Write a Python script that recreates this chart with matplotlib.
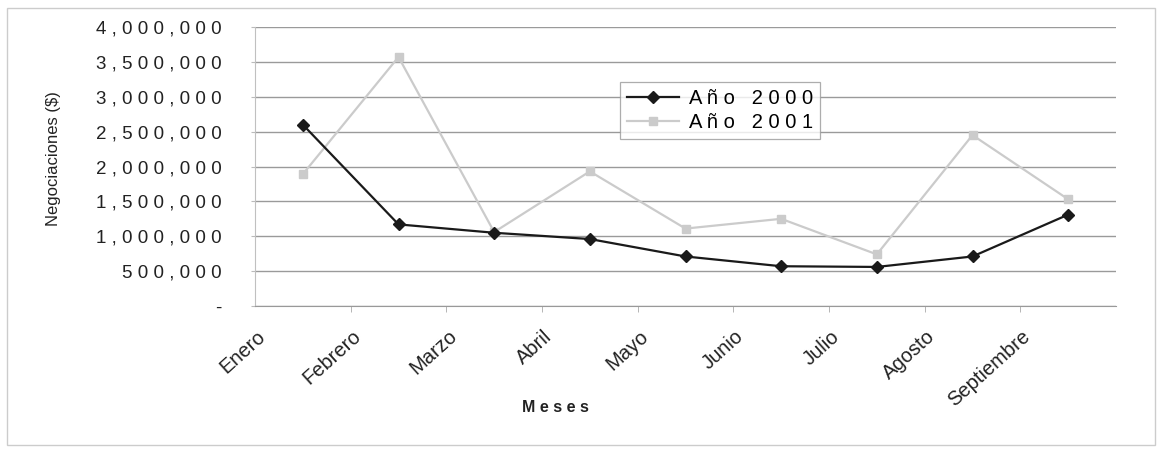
import matplotlib.pyplot as plt
from matplotlib.patches import Rectangle

meses = ["Enero", "Febrero", "Marzo", "Abril", "Mayo", "Junio",
         "Julio", "Agosto", "Septiembre"]
anio_2000 = [2600000, 1170000, 1050000, 960000, 710000, 570000, 560000, 710000, 1310000]
anio_2001 = [1890000, 3570000, 1060000, 1930000, 1110000, 1250000, 740000, 2450000, 1530000]
y_ticks = [0, 500000, 1000000, 1500000, 2000000, 2500000, 3000000, 3500000, 4000000]

# etiquetas estilo Excel con letras espaciadas
y_labels = ["-" if v == 0 else " ".join(f"{v:,}") for v in y_ticks]

plt.rcParams["font.family"] = ["Liberation Sans", "DejaVu Sans"]

fig = plt.figure(figsize=(11.62, 4.53), dpi=100)
ax = fig.add_axes([255 / 1162, 1 - 306 / 453, (1116 - 255) / 1162, (306 - 27) / 453])

x = list(range(len(meses)))
ax.plot(x, anio_2000, color="#1a1a1a", lw=1.6, marker="D", ms=6.5,
        label="A ñ o   2 0 0 0", zorder=4)
ax.plot(x, anio_2001, color="#cbcbcb", lw=1.6, marker="s", ms=6,
        label="A ñ o   2 0 0 1", zorder=3)

ax.set_xlim(-0.5, len(meses) - 0.5)
ax.set_ylim(0, 4000000)
ax.set_yticks(y_ticks)
ax.set_yticklabels(y_labels, fontsize=13.5, color="#222222")
ax.yaxis.grid(True, color="#9a9a9a", lw=1)
ax.set_axisbelow(True)

# las etiquetas de meses quedan algo a la izquierda de cada punto
ax.set_xticks([i - 0.42 for i in x])
ax.set_xticklabels(meses, fontsize=14.5, color="#222222", rotation=42,
                   ha="right", va="center", rotation_mode="anchor")
ax.set_xticks([i + 0.5 for i in x[:-1]], minor=True)
ax.tick_params(axis="x", which="major", length=0, pad=20)
ax.tick_params(axis="x", which="minor", length=4, color="#aaaaaa")
ax.tick_params(axis="y", length=3, color="#bbbbbb", pad=21)

for s in ["top", "right"]:
    ax.spines[s].set_visible(False)
ax.spines["left"].set_color("#c0c0c0")
ax.spines["bottom"].set_color("#999999")

ax.set_ylabel("Negociaciones ($)", fontsize=12, color="#222222")
ax.yaxis.set_label_coords((61 - 255) / (1116 - 255), 0.53)
fig.text(555 / 1162, 1 - 407 / 453, "M e s e s", fontsize=11.5, fontweight="bold",
         color="#222222", ha="center", va="center")

leg = ax.legend(loc="upper left", bbox_to_anchor=(0.424, 0.803), borderaxespad=0,
                fontsize=14.5, frameon=True, fancybox=False, handlelength=2.6,
                handletextpad=0.45, labelspacing=0.25, borderpad=0.35)
leg.get_frame().set_edgecolor("#999999")
leg.get_frame().set_linewidth(0.9)

fig.patches.append(Rectangle((7 / 1162, 8 / 453), 1148 / 1162, 437 / 453,
                             transform=fig.transFigure, fill=False,
                             edgecolor="#cccccc", lw=1))

fig.savefig("out.png", dpi=100)
